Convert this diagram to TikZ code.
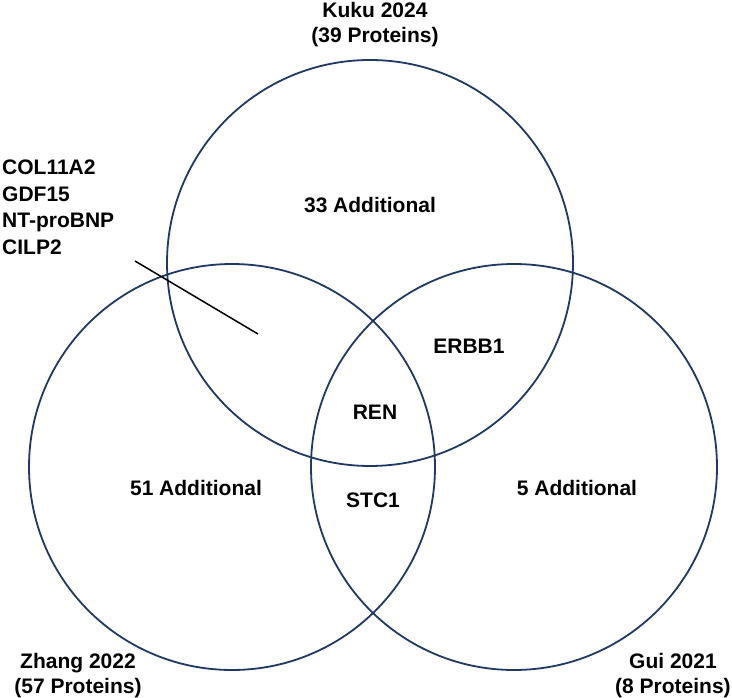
\documentclass[tikz,border=0pt]{standalone}
\usepackage{fontspec}
\setmainfont{Liberation Sans}
\definecolor{vennblue}{HTML}{1F3864}
\begin{document}
\begin{tikzpicture}[x=1pt,y=-1pt,
  venn/.style={circle, draw=vennblue, line width=1.8pt, minimum size=406pt, inner sep=0pt},
  lbl/.style={font=\fontsize{21}{25}\selectfont\bfseries, inner sep=0pt, align=center},
  lead/.style={draw=black, line width=1.5pt}]
\useasboundingbox (0,0) rectangle (732,698);
\node[venn] (kuku) at (370,263) {};
\node[venn] (zhang) at (232,467) {};
\node[venn] (gui) at (514,467) {};
% titles
\node[lbl] (tkuku) at (375,25) {Kuku 2024\\(39 Proteins)};
\node[lbl] (tzhang) at (78,676) {Zhang 2022\\(57 Proteins)};
\node[lbl] (tgui) at (673,676) {Gui 2021\\(8 Proteins)};
% region labels
\node[lbl] (rkuku) at (370,205) {33 Additional};
\node[lbl] (rzhang) at (196,488) {51 Additional};
\node[lbl] (rgui) at (577,488) {5 Additional};
\node[lbl] (rerbb) at (469,346) {ERBB1};
\node[lbl] (rren) at (375,412) {REN};
\node[lbl] (rstc) at (373,500) {STC1};
% list and leader
\node[lbl, align=left, font=\fontsize{21}{26.5}\selectfont\bfseries, anchor=north west] (list) at (2,160) {COL11A2\\GDF15\\NT-proBNP\\CILP2};
\coordinate (leadA) at (135,261);
\coordinate (leadB) at (258,334);
\draw[lead] (leadA) -- (leadB);
\end{tikzpicture}
\end{document}
